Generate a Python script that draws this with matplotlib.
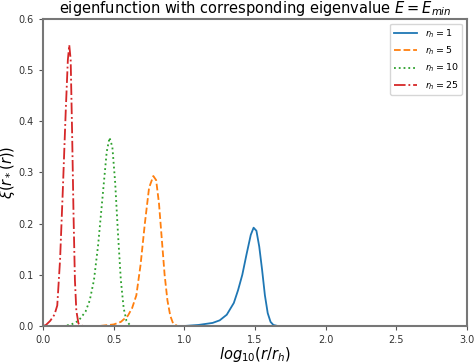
import numpy as np
import matplotlib.pyplot as plt

# values
x_rh1 = [0, 1.0, 1.1, 1.2, 1.25, 1.3, 1.35, 1.38, 1.41, 1.44, 1.47, 1.49, 1.51,
         1.53, 1.55, 1.57, 1.59, 1.61, 1.63, 1.66, 1.7, 3.0]
y_rh1 = [0, 0, 0.002, 0.006, 0.011, 0.022, 0.045, 0.07, 0.10, 0.14, 0.178, 0.192,
         0.186, 0.155, 0.11, 0.06, 0.025, 0.008, 0.002, 0, 0, 0]

x_rh5 = [0, 0.4, 0.5, 0.55, 0.6, 0.63, 0.66, 0.69, 0.72, 0.75, 0.78, 0.80, 0.82,
         0.84, 0.86, 0.88, 0.90, 0.92, 0.95, 1.0, 3.0]
y_rh5 = [0, 0, 0.003, 0.008, 0.02, 0.035, 0.06, 0.12, 0.2, 0.27, 0.293, 0.285,
         0.24, 0.17, 0.1, 0.05, 0.02, 0.005, 0, 0, 0]

x_rh10 = [0, 0.15, 0.2, 0.25, 0.3, 0.33, 0.36, 0.39, 0.42, 0.45, 0.47, 0.49, 0.51,
          0.53, 0.55, 0.57, 0.59, 0.62, 0.65, 3.0]
y_rh10 = [0, 0, 0.003, 0.01, 0.028, 0.05, 0.09, 0.16, 0.25, 0.34, 0.368, 0.35,
          0.28, 0.18, 0.09, 0.035, 0.01, 0, 0, 0]

x_rh25 = [0, 0.02, 0.05, 0.08, 0.10, 0.12, 0.14, 0.16, 0.175, 0.185, 0.195, 0.205,
          0.215, 0.225, 0.235, 0.25, 0.28, 3.0]
y_rh25 = [0, 0.002, 0.01, 0.022, 0.04, 0.13, 0.27, 0.42, 0.52, 0.549, 0.52, 0.38,
          0.22, 0.09, 0.03, 0.005, 0, 0]

fig = plt.figure(figsize=(4.74, 3.63), dpi=100)
ax = fig.add_axes([0.091, 0.102, 0.894, 0.846])

ax.plot(x_rh1, y_rh1, "-", color="#1f77b4", lw=1.3, label=r"$r_h = 1$")
ax.plot(x_rh5, y_rh5, "--", color="#ff7f0e", lw=1.3, label=r"$r_h = 5$")
ax.plot(x_rh10, y_rh10, ":", color="#2ca02c", lw=1.3, label=r"$r_h = 10$")
ax.plot(x_rh25, y_rh25, "-.", color="#d62728", lw=1.3, label=r"$r_h = 25$")

ax.set_xlim(0, 3.0)
ax.set_ylim(0, 0.6)
ax.set_xticks([0, 0.5, 1.0, 1.5, 2.0, 2.5, 3.0])
ax.set_yticks([0, 0.1, 0.2, 0.3, 0.4, 0.5, 0.6])
ax.tick_params(labelsize=7, length=3, color="#555555", labelcolor="#333333")
for s in ax.spines.values():
    s.set_color("#777777")
    s.set_linewidth(1.5)

ax.set_title(r"eigenfunction with corresponding eigenvalue $E = E_{min}$",
             fontsize=10.5, pad=4)
ax.set_xlabel(r"$log_{10}(r/r_h)$", fontsize=10.5, labelpad=0)
ax.set_ylabel(r"$\xi(r_*(r))$", fontsize=10.5, labelpad=1)
ax.legend(loc="upper right", fontsize=6.8, handlelength=2.5)

fig.savefig("out.png", dpi=100)
